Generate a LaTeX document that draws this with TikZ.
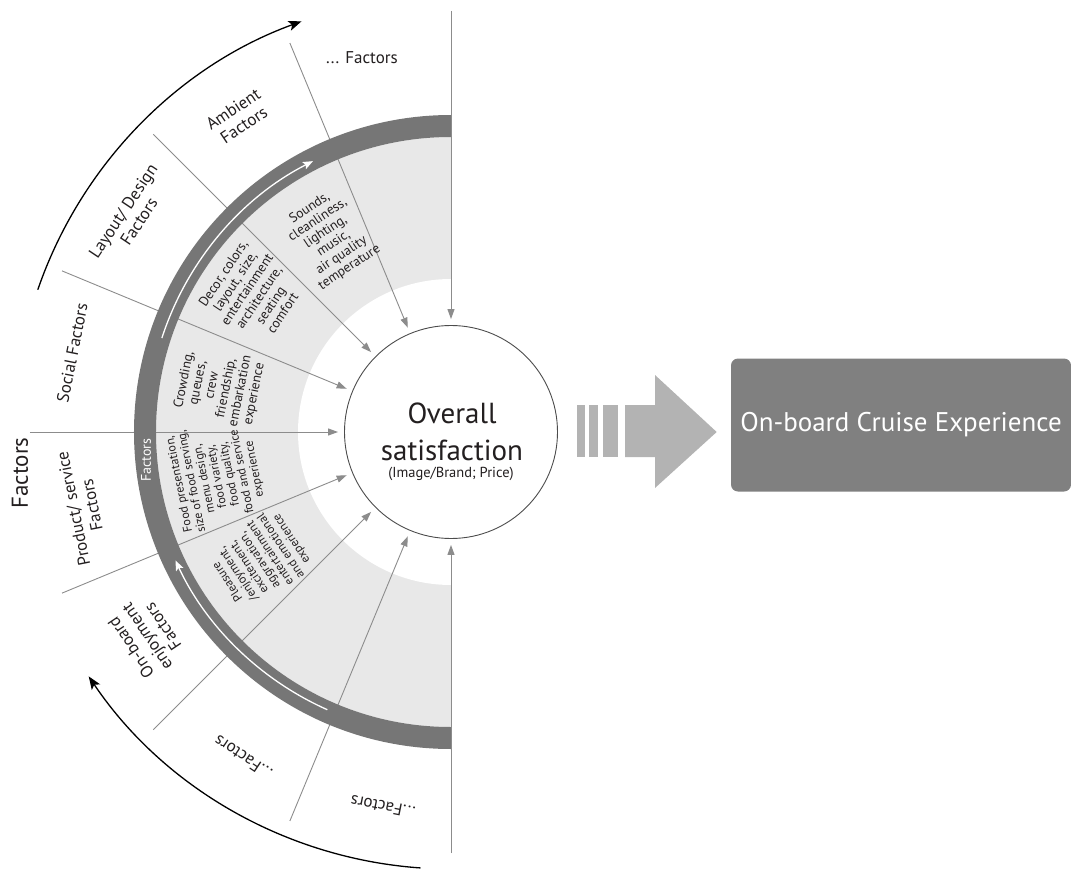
\documentclass[tikz,border=0pt]{standalone}
\usepackage{fontspec}
\setmainfont{PT Sans}
\usetikzlibrary{arrows.meta}
\definecolor{bandgray}{HTML}{767676}
\definecolor{lightfill}{HTML}{E8E8E8}
\definecolor{linegray}{HTML}{8C8C8C}
\definecolor{arrowgray}{HTML}{B3B3B3}
\definecolor{boxgray}{HTML}{808080}
\definecolor{textgray}{HTML}{231F20}
\begin{document}
\begin{tikzpicture}[x=1pt,y=1pt,
  divider/.style={draw=linegray, line width=0.9pt, shorten >=6pt, -{Triangle[length=10pt,width=7pt]}},
  outerarc/.style={draw=black, line width=1.3pt, -{Stealth[length=13pt,width=10pt,inset=3pt]}},
  whitearc/.style={draw=white, line width=1.3pt, -{Stealth[length=10pt,width=8pt,inset=2pt]}},
  outerlbl/.style={align=center, font=\fontsize{17}{19}\selectfont, text=textgray, inner sep=0pt},
  innerlbl/.style={align=center, font=\fontsize{13.5}{14.3}\selectfont, text=textgray, inner sep=0pt},
  smalllbl/.style={align=center, font=\fontsize{12.2}{12.8}\selectfont, text=textgray, inner sep=0pt},
  bigarrow/.style={fill=arrowgray, draw=none},
]
\useasboundingbox (-451,-436) rectangle (620,432);

% light gray half annulus and inner white disc
\fill[lightfill] (0,295) arc[start angle=90, end angle=270, radius=295] -- cycle;
\fill[white] (0,0) circle (153);

% central circle
\node[circle, draw=black!70, line width=0.9pt, fill=white, minimum size=213pt, inner sep=0pt] (sat) at (0,0) {};

% dividers with arrows toward the circle
\foreach \a [count=\i] in {90,112.5,135,157.5,180,202.5,225,247.5,270} {
  \coordinate (o\i) at (\a:421);
  \draw[divider] (o\i) -- (sat);
}

% dark band
\fill[bandgray] (0,317) arc[start angle=90, end angle=270, radius=317] -- (0,-295) arc[start angle=270, end angle=90, radius=295] -- cycle;

% white arrows inside band
\coordinate (wa1) at (162:304);
\draw[whitearc] (wa1) arc[start angle=162, end angle=117, radius=304];
\coordinate (wa2) at (246:304);
\draw[whitearc] (wa2) arc[start angle=246, end angle=205, radius=304];
\node[font=\fontsize{14}{15}\selectfont, text=white, rotate=90, inner sep=0pt] (bandlbl) at (-305,-28) {Factors};

% outer black arcs
\coordinate (ta) at (161:437);
\draw[outerarc] (ta) arc[start angle=161, end angle=110, radius=437];
\coordinate (ba) at (266:437);
\draw[outerarc] (ba) arc[start angle=266, end angle=214, radius=437];

% circle text
\node[font=\fontsize{29}{30}\selectfont, text=textgray] (ov) at (1,19) {Overall};
\node[font=\fontsize{29}{30}\selectfont, text=textgray] (sf) at (1,-18) {satisfaction};
\node[font=\fontsize{14.5}{15}\selectfont, text=textgray] (ib) at (0,-42) {(Image/Brand; Price)};

% outer labels
\node[outerlbl] (l1) at (-89,374) {... Factors};
\node[outerlbl, rotate=33.75] (l2) at (124:380) {Ambient\\Factors};
\node[outerlbl, rotate=56.25] (l3) at (146:386) {Layout/ Design\\Factors};
\node[outerlbl, rotate=78.75] (l4) at (168.2:387) {Social Factors};
\node[outerlbl, rotate=101.25] (l5) at (191.5:376) {Product/ service\\Factors};
\node[outerlbl, rotate=123.75] (l6) at (214:367) {On-board\\enjoyment\\Factors};
\node[outerlbl, rotate=146.25] (l7) at (237.4:386) {...Factors};
\node[outerlbl, rotate=168.75] (l8) at (259.7:381) {...Factors};
\node[font=\fontsize{23}{24}\selectfont, text=textgray, rotate=90] (fac) at (-431,-41) {Factors};

% inner labels
\node[innerlbl, rotate=33.75] (i1) at (122:229) {Sounds,\\cleanliness,\\lighting,\\music,\\air quality\\temperature};
\node[innerlbl, rotate=56.25] (i2) at (145:242) {Decor, colors,\\layout, size,\\entertainment\\architecture,\\seating\\comfort};
\node[innerlbl, rotate=78.75] (i3) at (169:236) {Crowding,\\queues,\\crew\\friendship,\\embarkation\\experience};
\node[smalllbl, rotate=101.25] (i4) at (190.8:238) {Food presentation,\\size of food serving,\\menu design,\\food variety,\\food quality,\\food and service\\experience};
\node[smalllbl, rotate=123.75] (i5) at (213.8:230) {Pleasure\\/enjoyment,\\excitement,\\aggravation,\\entertainment\\and emotional\\experience};

% big striped arrow
\fill[bigarrow] (125.7,27) rectangle (134,-25);
\fill[bigarrow] (138.3,27) rectangle (147.3,-25);
\fill[bigarrow] (152.3,27) rectangle (167.3,-25);
\fill[bigarrow] (174,27) -- (204,27) -- (204,57) -- (265.7,0) -- (204,-56) -- (204,-25) -- (174,-25) -- cycle;

% result box
\node[fill=boxgray, rounded corners=7pt, minimum width=340pt, minimum height=133pt, inner sep=0pt, text=white, font=\fontsize{27}{29}\selectfont] (exp) at (450,7) {On-board Cruise Experience};
\end{tikzpicture}
\end{document}
